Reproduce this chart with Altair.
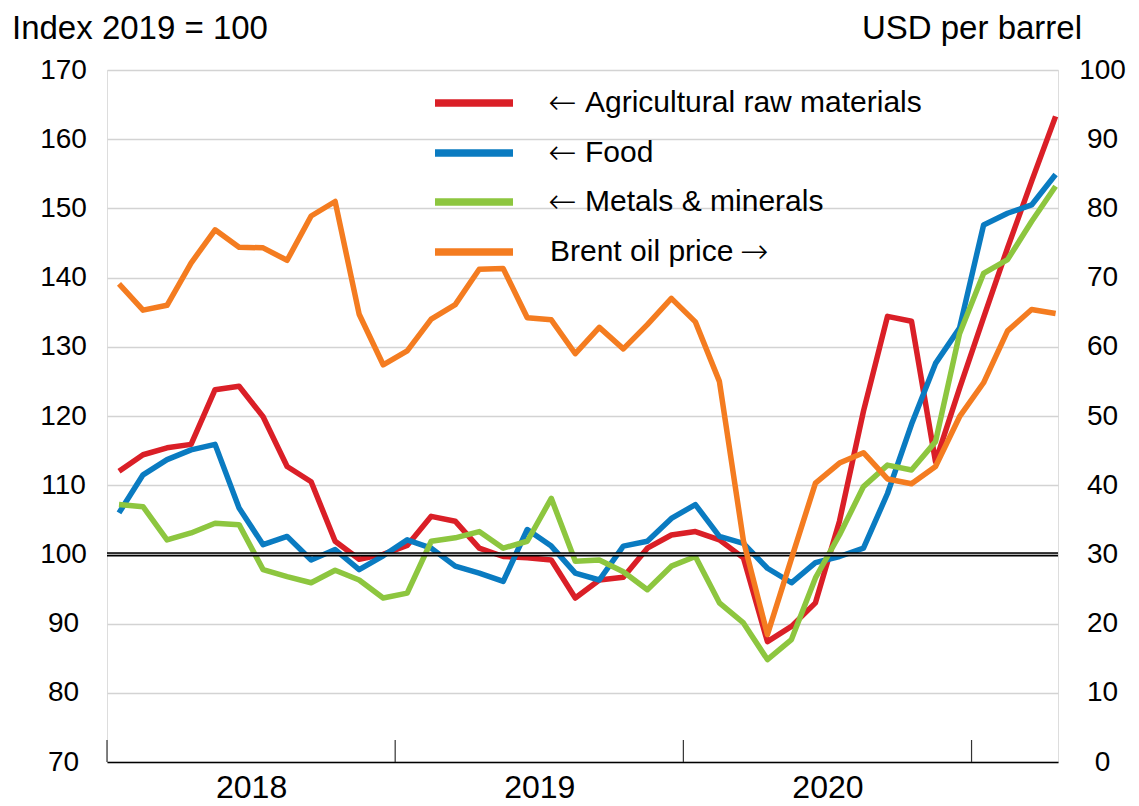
import altair as alt
import pandas as pd

months = ["2018-01", "2018-02", "2018-03", "2018-04", "2018-05", "2018-06",
          "2018-07", "2018-08", "2018-09", "2018-10", "2018-11", "2018-12",
          "2019-01", "2019-02", "2019-03", "2019-04", "2019-05", "2019-06",
          "2019-07", "2019-08", "2019-09", "2019-10", "2019-11", "2019-12",
          "2020-01", "2020-02", "2020-03", "2020-04", "2020-05", "2020-06",
          "2020-07", "2020-08", "2020-09", "2020-10", "2020-11", "2020-12",
          "2021-01", "2021-02", "2021-03", "2021-04"]

agri = [112.0, 114.4, 115.4, 115.9, 123.8, 124.3, 119.9, 112.7, 110.5, 101.9,
        99.3, 100.0, 101.3, 105.5, 104.8, 100.9, 99.7, 99.5, 99.2, 93.7,
        96.3, 96.7, 100.9, 102.8, 103.3, 102.1, 99.5, 87.4, 89.6, 93.0,
        104.8, 120.7, 134.4, 133.7, 113.4, 124.0, 134.2, 144.3, 153.9, 163.3]

food = [106.0, 111.5, 113.7, 115.1, 115.9, 106.7, 101.4, 102.6, 99.2, 100.7,
        97.8, 99.8, 102.1, 100.9, 98.3, 97.3, 96.1, 103.6, 101.2, 97.3,
        96.3, 101.2, 101.9, 105.2, 107.2, 102.6, 101.6, 98.0, 95.9, 98.8,
        99.7, 100.9, 108.8, 118.8, 127.6, 132.7, 147.6, 149.3, 150.5, 154.9]

metals = [107.2, 106.9, 102.1, 103.1, 104.5, 104.3, 97.8, 96.8, 95.9, 97.7,
          96.3, 93.7, 94.4, 101.9, 102.4, 103.3, 100.9, 101.9, 108.1, 99.0,
          99.2, 97.5, 94.9, 98.3, 99.7, 93.0, 90.1, 84.8, 87.7, 96.6,
          102.8, 109.8, 112.9, 112.2, 116.3, 131.9, 140.6, 142.6, 148.1, 153.2]

brent = [69.1, 65.3, 66.0, 72.1, 76.9, 74.4, 74.3, 72.5, 78.9, 81.0,
         64.7, 57.4, 59.4, 64.0, 66.1, 71.2, 71.3, 64.2, 63.9, 59.0,
         62.8, 59.7, 63.2, 67.0, 63.6, 55.0, 32.0, 18.4, 29.4, 40.3,
         43.2, 44.7, 40.9, 40.2, 42.7, 49.9, 54.8, 62.3, 65.4, 64.8]

year_labels = ["2018", "2019", "2020"]
legend_names = ["Agricultural raw materials", "Food", "Metals & minerals", "Brent oil price"]
legend_arrows = ["\u2190", "\u2190", "\u2190", "\u2192"]
colors = ["#DA1F27", "#0A7BC1", "#8DC63F", "#F47C20"]
left_ticks = [70, 80, 90, 100, 110, 120, 130, 140, 150, 160, 170]
right_ticks = [0, 10, 20, 30, 40, 50, 60, 70, 80, 90, 100]

FONT = "Liberation Sans"
W, H = 951, 692

n = len(months)
t_pos = [i + 0.5 for i in range(n)]
year_start = [0, 12, 24, 36]
year_mid = [6, 18, 30]

x_enc = alt.X(
    "t:Q",
    scale=alt.Scale(domain=[0, 39.6], nice=False, zero=False),
    axis=alt.Axis(
        values=year_mid,
        labelExpr="datum.value == 6 ? '2018' : (datum.value == 18 ? '2019' : '2020')",
        ticks=False, tickSize=0, grid=False, domain=True, domainColor="#000000",
        domainWidth=1.6, labelFontSize=32, labelFont=FONT, labelColor="#000000",
        labelPadding=10, title=None, labelFlush=False,
    ),
)

left_axis = alt.Axis(
    values=left_ticks, grid=True, gridColor="#d3d3d3", gridWidth=1.5,
    domain=False, ticks=False, tickSize=0, labelFontSize=28, labelFont=FONT,
    labelColor="#000000", labelAlign="center", labelPadding=44, title=None,
)
left_scale = alt.Scale(domain=[70, 170], nice=False, zero=False)

right_axis = alt.Axis(
    values=right_ticks, grid=False, orient="right", domain=False, ticks=False,
    tickSize=0, labelFontSize=28, labelFont=FONT, labelColor="#000000",
    labelAlign="center", labelPadding=44, title=None,
)
right_scale = alt.Scale(domain=[0, 100], nice=False, zero=False)


def series_df(vals):
    return pd.DataFrame({"t": t_pos, "v": vals, "month": months})


def left_line(vals, color):
    return alt.Chart(series_df(vals)).mark_line(
        color=color, strokeWidth=5.5, strokeJoin="round"
    ).encode(x=x_enc, y=alt.Y("v:Q", scale=left_scale, axis=left_axis))


ref_df = pd.DataFrame({"v": [100]})
rule_black = alt.Chart(ref_df).mark_rule(color="#000000", strokeWidth=4.2).encode(
    y=alt.Y("v:Q", scale=left_scale, axis=left_axis))
rule_mid = alt.Chart(ref_df).mark_rule(color="#b0b0b0", strokeWidth=1.2).encode(
    y=alt.Y("v:Q", scale=left_scale, axis=left_axis))

left_group = alt.layer(
    left_line(agri, colors[0]),
    left_line(food, colors[1]),
    left_line(metals, colors[2]),
    rule_black,
    rule_mid,
)

right_group = alt.Chart(series_df(brent)).mark_line(
    color=colors[3], strokeWidth=5.5, strokeJoin="round"
).encode(x=x_enc, y=alt.Y("v:Q", scale=right_scale, axis=right_axis))

ticks = alt.Chart(pd.DataFrame({"t": year_start})).mark_rule(
    color="#333333", strokeWidth=1.2
).encode(x=x_enc, y=alt.value(H - 22), y2=alt.value(H))

legend_rows = [33, 83, 132, 182]
legend_layers = []
for k, (name, arrow, col, yy) in enumerate(zip(legend_names, legend_arrows, colors, legend_rows)):
    d = pd.DataFrame({"label": [name], "arrow": [arrow]})
    legend_layers.append(
        alt.Chart(d).mark_rule(color=col, strokeWidth=7.5).encode(
            x=alt.value(328), x2=alt.value(406), y=alt.value(yy))
    )
    left_arrow = arrow == "\u2190"
    legend_layers.append(
        alt.Chart(d).mark_text(
            align="left", baseline="middle", fontSize=30, font=FONT, color="#000000"
        ).encode(text="label:N", x=alt.value(478 if left_arrow else 443), y=alt.value(yy))
    )
    legend_layers.append(
        alt.Chart(d).mark_text(
            align="left", baseline="middle", fontSize=34, font="DejaVu Sans",
            color="#000000", fontWeight=200
        ).encode(text="arrow:N", x=alt.value(441 if left_arrow else 633), y=alt.value(yy + 1))
    )

title_left = alt.Chart(pd.DataFrame({"label": ["Index 2019 = 100"]})).mark_text(
    align="left", baseline="alphabetic", fontSize=33, font=FONT, color="#000000"
).encode(text="label:N", x=alt.value(-95), y=alt.value(-31))

title_right = alt.Chart(pd.DataFrame({"label": ["USD per barrel"]})).mark_text(
    align="right", baseline="alphabetic", fontSize=33, font=FONT, color="#000000"
).encode(text="label:N", x=alt.value(975), y=alt.value(-31))

chart = alt.layer(
    left_group, right_group, ticks, *legend_layers, title_left, title_right
).resolve_scale(y="independent").properties(
    width=W, height=H,
    padding={"left": 99, "top": 62, "right": 73, "bottom": 44},
    autosize=alt.AutoSizeParams(type="none"),
).configure_view(stroke=None).configure(background="white")

chart.save("out.html", embed_options={"renderer": "svg", "actions": False})
